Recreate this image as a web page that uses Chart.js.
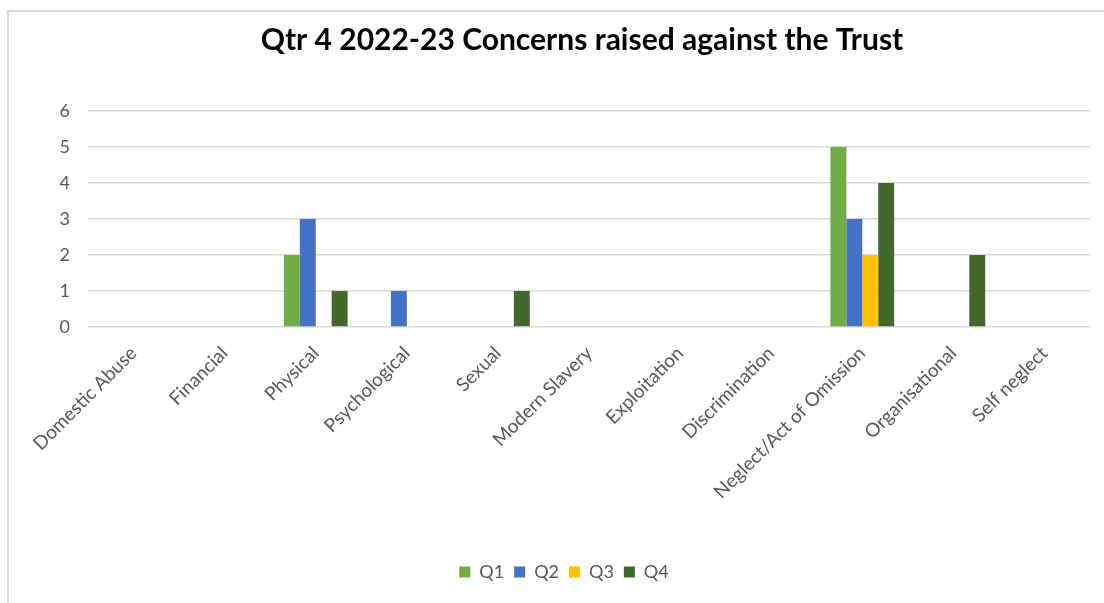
<!DOCTYPE html>
<html>
<head>
<meta charset="utf-8">
<script src="https://cdn.jsdelivr.net/npm/chart.js@4"></script>
<style>
  html, body { margin: 0; padding: 0; background: #fff; }
  #wrap { width: 1104px; height: 603px; position: relative; }
</style>
</head>
<body>
<div id="wrap"><canvas id="grafica"></canvas></div>
<script>
const categorias = ["Domestic Abuse","Financial","Physical","Psychological","Sexual","Modern Slavery","Exploitation","Discrimination","Neglect/Act of Omission","Organisational","Self neglect"];
const datosQ1 = [0,0,2,0,0,0,0,0,5,0,0];
const datosQ2 = [0,0,3,1,0,0,0,0,3,0,0];
const datosQ3 = [0,0,0,0,0,0,0,0,2,0,0];
const datosQ4 = [0,0,1,0,1,0,0,0,4,2,0];
const ticksY = [0,1,2,3,4,5,6];

const gris = '#595959';

// marco gris arriba e izquierda, fondo blanco
const marco = {
    id: 'marco',
    afterLayout: (chart) => {
        // el titulo y la leyenda van centrados sobre el area del grafico, no sobre el lienzo
        chart.titleBlock.left += 74;
        chart.legend.left += 38;
    },
    beforeDraw: (chart) => {
        const ctx = chart.ctx;
        ctx.save();
        ctx.fillStyle = 'white';
        ctx.fillRect(0, 0, chart.width, chart.height);
        ctx.strokeStyle = '#d9d9d9';
        ctx.lineWidth = 2;
        ctx.beginPath();
        ctx.moveTo(8, chart.height);
        ctx.lineTo(8, 11);
        ctx.lineTo(chart.width, 11);
        ctx.stroke();
        ctx.restore();
    }
};

const ctx = document.getElementById('grafica');
new Chart(ctx, {
    type: 'bar',
    data: {
        labels: categorias,
        datasets: [
            { label: 'Q1', data: datosQ1, backgroundColor: '#70AD47' },
            { label: 'Q2', data: datosQ2, backgroundColor: '#4472C4' },
            { label: 'Q3', data: datosQ3, backgroundColor: '#FFC000' },
            { label: 'Q4', data: datosQ4, backgroundColor: '#43682B' }
        ]
    },
    options: {
        responsive: true,
        maintainAspectRatio: false,
        animation: false,
        categoryPercentage: 0.7,
        barPercentage: 1.0,
        layout: { padding: { left: 0, right: 14, top: 0, bottom: 12 } },
        plugins: {
            title: {
                display: true,
                text: 'Qtr 4 2022-23 Concerns raised against the Trust',
                color: '#000',
                font: { family: 'Lato', size: 30, weight: 'bold' },
                padding: { top: 22, bottom: 53 }
            },
            legend: {
                position: 'bottom',
                labels: {
                    color: gris,
                    font: { family: 'Lato', size: 18 },
                    boxWidth: 11,
                    boxHeight: 11,
                    padding: 10
                }
            },
            tooltip: { enabled: false }
        },
        scales: {
            x: {
                grid: { display: false },
                border: { display: false },
                ticks: {
                    color: gris,
                    font: { family: 'Lato', size: 19 },
                    maxRotation: 45,
                    minRotation: 45,
                    padding: 7,
                    autoSkip: false
                },
                afterFit: (scale) => { scale.height = 226; }
            },
            y: {
                min: 0,
                max: 6,
                grid: { color: '#d9d9d9', lineWidth: 1.5, drawTicks: false },
                border: { display: false },
                ticks: {
                    color: gris,
                    font: { family: 'Lato', size: 18 },
                    stepSize: 1,
                    padding: 18,
                    callback: (v) => ticksY.includes(v) ? v : ''
                },
                afterFit: (scale) => { scale.width = 88; }
            }
        }
    },
    plugins: [marco]
});
</script>
</body>
</html>
